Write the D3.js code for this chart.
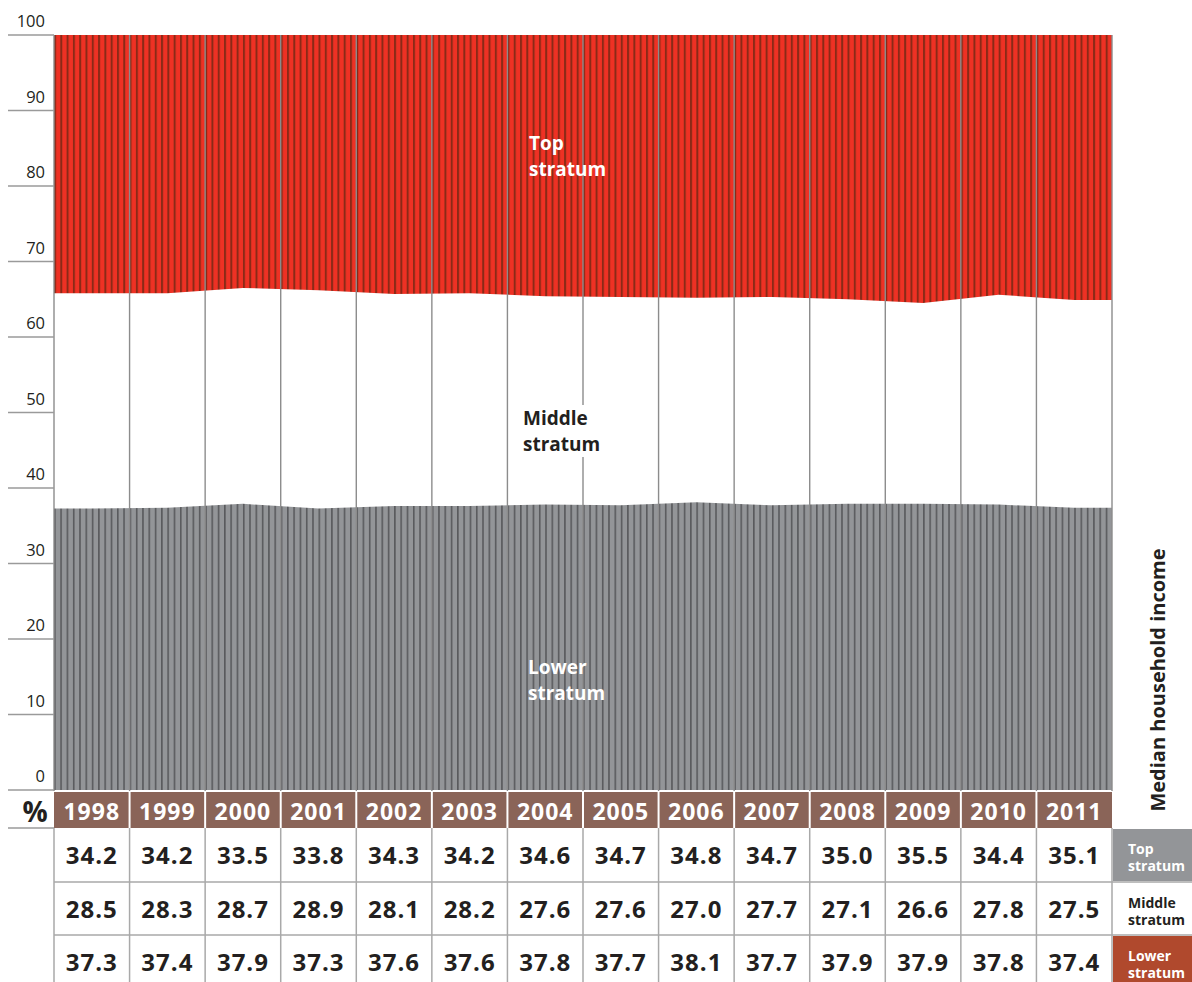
<!DOCTYPE html>
<html>
<head>
<meta charset="utf-8">
<script src="https://cdn.jsdelivr.net/npm/d3@7"></script>
<style>
  html, body { margin: 0; padding: 0; background: #fff; }
  svg { display: block; font-family: "Open Sans", "Noto Sans", sans-serif; }
</style>
</head>
<body>
<svg id="chart" width="1192" height="982"></svg>
<script>
// Income shares (%) by stratum, 1998–2011
const years = [1998, 1999, 2000, 2001, 2002, 2003, 2004, 2005, 2006, 2007, 2008, 2009, 2010, 2011];
const topShare    = [34.2, 34.2, 33.5, 33.8, 34.3, 34.2, 34.6, 34.7, 34.8, 34.7, 35.0, 35.5, 34.4, 35.1];
const middleShare = [28.5, 28.3, 28.7, 28.9, 28.1, 28.2, 27.6, 27.6, 27.0, 27.7, 27.1, 26.6, 27.8, 27.5];
const lowerShare  = [37.3, 37.4, 37.9, 37.3, 37.6, 37.6, 37.8, 37.7, 38.1, 37.7, 37.9, 37.9, 37.8, 37.4];
const yTicks = [0, 10, 20, 30, 40, 50, 60, 70, 80, 90, 100];
const rowLabels = [["Top", "stratum"], ["Middle", "stratum"], ["Lower", "stratum"]];
const sideTitle = "Median household income";

const svg = d3.select("#chart");
const plotL = 54, plotR = 1112, plotT = 35, plotB = 790;
const ink = "#231f20";

const x = d3.scaleBand().domain(years).range([plotL, plotR]).padding(0);
const y = d3.scaleLinear().domain([0, 100]).range([plotB, plotT]);
const bw = x.bandwidth();

// Striped fills: one stripe per month
const defs = svg.append("defs");
function stripes(id, base, dark, w) {
  const p = defs.append("pattern")
    .attr("id", id).attr("patternUnits", "userSpaceOnUse")
    .attr("x", plotL).attr("y", 0)
    .attr("width", bw / 12).attr("height", 10);
  p.append("rect").attr("width", bw / 12).attr("height", 10).attr("fill", base);
  p.append("rect").attr("x", 0).attr("width", w).attr("height", 10).attr("fill", dark);
}
stripes("redStripes", "#ee3124", "#8a2a17", 2);
stripes("greyStripes", "#939598", "#595a5d", 1.6);

// Series points at column centres, held flat out to the plot edges
function pts(vals) {
  const p = vals.map((v, i) => ({ x: x(years[i]) + bw / 2, v }));
  p.unshift({ x: plotL, v: vals[0] });
  p.push({ x: plotR, v: vals[vals.length - 1] });
  return p;
}

const lowerArea = d3.area().x(d => d.x).y0(y(0)).y1(d => y(d.v));
const topArea = d3.area().x(d => d.x).y0(d => y(100 - d.v)).y1(y(100));

svg.append("path").datum(pts(lowerShare)).attr("d", lowerArea).attr("fill", "url(#greyStripes)");
svg.append("path").datum(pts(topShare)).attr("d", topArea).attr("fill", "url(#redStripes)");

// Year column dividers across the plot
const edges = d3.range(years.length + 1).map(i => plotL + i * bw);
svg.append("g").selectAll("line").data(edges).join("line")
  .attr("x1", d => d).attr("x2", d => d)
  .attr("y1", plotT).attr("y2", plotB + 1)
  .attr("stroke", "#8c8c8c").attr("stroke-width", 1.4);

// Y axis: short rules with labels sitting above them
const yAxis = svg.append("g");
yAxis.selectAll("line").data(yTicks).join("line")
  .attr("x1", 8).attr("x2", plotL)
  .attr("y1", d => y(d)).attr("y2", d => y(d))
  .attr("stroke", "#9a9a9a").attr("stroke-width", 1.3);
yAxis.selectAll("text").data(yTicks).join("text")
  .attr("x", 45).attr("y", d => y(d) - 8)
  .attr("text-anchor", "end")
  .attr("font-size", 16.5).attr("fill", ink)
  .text(d => d);

// In-plot stratum labels
function label(lines, lx, ly, color, bg) {
  const g = svg.append("g");
  if (bg) {
    g.append("rect").attr("x", lx - 4).attr("y", ly - 20).attr("width", 88).attr("height", 52).attr("fill", "#fff");
  }
  lines.forEach((t, i) => {
    g.append("text").attr("x", lx).attr("y", ly + i * 26)
      .attr("font-size", 19).attr("font-weight", 700).attr("fill", color).text(t);
  });
}
label(["Top", "stratum"], 529, 150, "#fff", false);
label(["Middle", "stratum"], 523, 425, ink, true);
label(["Lower", "stratum"], 528, 674, "#fff", false);

// Year header band
const hTop = 792, hBot = 828;
svg.append("rect").attr("x", plotL).attr("y", hTop).attr("width", plotR - plotL).attr("height", hBot - hTop).attr("fill", "#8a6458");
svg.append("g").selectAll("line").data(edges.slice(1, -1)).join("line")
  .attr("x1", d => d).attr("x2", d => d).attr("y1", hTop).attr("y2", hBot)
  .attr("stroke", "#fff").attr("stroke-width", 2);
svg.append("g").selectAll("text").data(years).join("text")
  .attr("x", d => x(d) + bw / 2).attr("y", 820)
  .attr("text-anchor", "middle").attr("font-size", 23).attr("font-weight", 700)
  .attr("letter-spacing", 1).attr("fill", "#fff")
  .text(d => d);
svg.append("text").attr("x", 35).attr("y", 822).attr("text-anchor", "middle")
  .attr("font-size", 28).attr("font-weight", 700).attr("fill", ink).text("%");
svg.append("line").attr("x1", 8).attr("x2", plotL).attr("y1", hBot).attr("y2", hBot)
  .attr("stroke", "#9a9a9a").attr("stroke-width", 1.3);

// Value table
const rowEdges = [828, 882, 935, 989];
const rows = [topShare, middleShare, lowerShare];
const table = svg.append("g");
table.selectAll("line.v").data(edges).join("line").attr("class", "v")
  .attr("x1", d => d).attr("x2", d => d).attr("y1", hBot).attr("y2", 982)
  .attr("stroke", "#a9a9a9").attr("stroke-width", 1.5);
table.selectAll("line.h").data(rowEdges.slice(1, 3)).join("line").attr("class", "h")
  .attr("x1", plotL).attr("x2", 1192).attr("y1", d => d).attr("y2", d => d)
  .attr("stroke", "#a9a9a9").attr("stroke-width", 1.5);
rows.forEach((vals, r) => {
  table.append("g").selectAll("text").data(vals).join("text")
    .attr("x", (d, i) => x(years[i]) + bw / 2)
    .attr("y", (rowEdges[r] + rowEdges[r + 1]) / 2 + 9)
    .attr("text-anchor", "middle").attr("font-size", 24).attr("font-weight", 700)
    .attr("letter-spacing", 1).attr("fill", ink)
    .text(d => d.toFixed(1));
});

// Row key
const keyFill = ["#939598", "#fff", "#b0492d"];
const keyText = ["#fff", ink, "#fff"];
rowLabels.forEach((lines, r) => {
  const y0 = r === 0 ? 829 : rowEdges[r] + 1;
  const y1 = r === 2 ? 982 : rowEdges[r + 1] - 1;
  svg.append("rect").attr("x", plotR + 1).attr("y", y0).attr("width", 1192 - plotR - 1).attr("height", y1 - y0).attr("fill", keyFill[r]);
  lines.forEach((t, i) => {
    svg.append("text").attr("x", 1128).attr("y", rowEdges[r] + 26 + i * 17)
      .attr("font-size", 14).attr("font-weight", 700).attr("fill", keyText[r]).text(t);
  });
});

// Side title
svg.append("text")
  .attr("transform", "translate(1165,680) rotate(-90)")
  .attr("text-anchor", "middle").attr("font-size", 20).attr("font-weight", 700).attr("fill", ink)
  .text(sideTitle);
</script>
</body>
</html>
